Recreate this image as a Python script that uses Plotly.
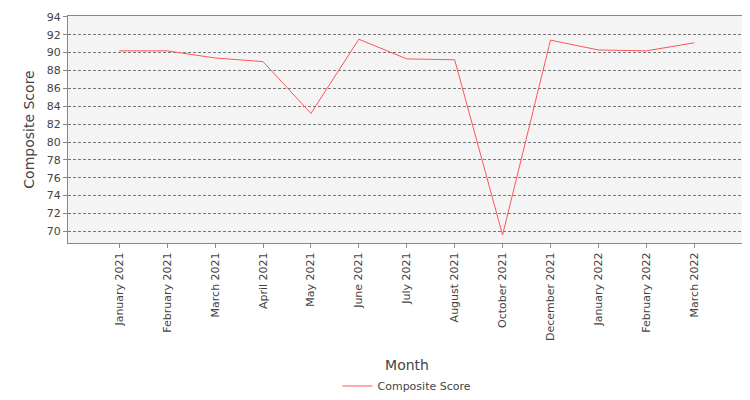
import plotly.graph_objects as go

months = ["January 2021", "February 2021", "March 2021", "April 2021", "May 2021",
          "June 2021", "July 2021", "August 2021", "October 2021", "December 2021",
          "January 2022", "February 2022", "March 2022"]
scores = [90.2, 90.2, 89.4, 89.0, 83.2, 91.5, 89.3, 89.2, 69.6, 91.4, 90.3, 90.2, 91.1]

fig = go.Figure()
fig.add_trace(go.Scatter(
    x=list(range(len(months))), y=scores, mode="lines",
    name="Composite Score", line=dict(color="#ff5555", width=1),
))

fig.update_layout(
    width=750, height=400,
    margin=dict(l=60, r=12, t=8, b=162),
    paper_bgcolor="white", plot_bgcolor="#f4f4f4",
    font=dict(family="DejaVu Sans", size=11, color="#444444"),
    showlegend=True,
    legend=dict(orientation="h", x=0.5, xanchor="center", y=-0.63, yanchor="middle",
                font=dict(size=11, color="#444444")),
)
fig.update_xaxes(
    tickmode="array", tickvals=list(range(len(months))), ticktext=months,
    tickangle=-90, range=[-1.07, 13.08], showgrid=False, zeroline=False,
    automargin=False, tickfont=dict(size=11),
    showline=True, linecolor="#888888", mirror=True,
    ticks="outside", ticklen=4, tickcolor="#888888",
    title=dict(text="Month", font=dict(size=14, color="#444444"), standoff=20),
)
fig.update_yaxes(
    range=[68.7, 94.1], tick0=70, dtick=2, automargin=False,
    showgrid=True, gridcolor="#777777", griddash="3px,2px", gridwidth=0.5,
    showline=True, linecolor="#888888", mirror=True,
    ticks="outside", ticklen=4, tickcolor="#888888", zeroline=False,
    title=dict(text="Composite Score", font=dict(size=14, color="#444444"), standoff=8),
)

fig.write_html("out.html")
